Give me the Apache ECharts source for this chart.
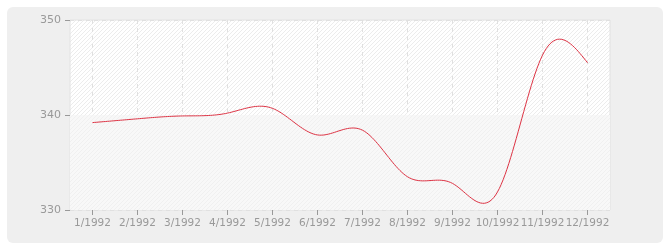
<!DOCTYPE html>
<html><head><meta charset="utf-8">
<script src="https://cdn.jsdelivr.net/npm/echarts@6/dist/echarts.min.js"></script>
<style>html,body{margin:0;padding:0;background:#fff}#c{width:670px;height:250px}</style>
</head><body><div id="c"></div>
<script>
const categories = ['1/1992','2/1992','3/1992','4/1992','5/1992','6/1992','7/1992','8/1992','9/1992','10/1992','11/1992','12/1992'];
const values = [339.2, 339.6, 339.9, 340.2, 340.7, 337.9, 338.4, 333.5, 332.8, 331.9, 346.3, 345.5];
const yTicks = { min: 330, max: 350, interval: 10 };

function hatch(bg, line) {
  const c = document.createElement('canvas');
  c.width = 4; c.height = 4;
  const g = c.getContext('2d');
  g.fillStyle = bg; g.fillRect(0, 0, 4, 4);
  g.fillStyle = line;
  for (let i = 0; i < 4; i++) g.fillRect(i, 3 - i, 1, 1);
  return { image: c, repeat: 'repeat' };
}

// natural cubic spline through pixel knots (uniform x)
function splinePoints(pts) {
  const n = pts.length;
  const h = pts[1][0] - pts[0][0];
  const y = pts.map(p => p[1]);
  const M = new Array(n).fill(0);
  const a = [], b = [], c = [], d = [];
  for (let i = 1; i < n - 1; i++) {
    a.push(1); b.push(4); c.push(1);
    d.push(6 * (y[i + 1] - 2 * y[i] + y[i - 1]) / (h * h));
  }
  const m = d.length;
  for (let i = 1; i < m; i++) {
    const w = a[i] / b[i - 1];
    b[i] -= w * c[i - 1];
    d[i] -= w * d[i - 1];
  }
  const sol = new Array(m);
  sol[m - 1] = d[m - 1] / b[m - 1];
  for (let i = m - 2; i >= 0; i--) sol[i] = (d[i] - c[i] * sol[i + 1]) / b[i];
  for (let i = 0; i < m; i++) M[i + 1] = sol[i];
  const out = [];
  const steps = 24;
  for (let i = 0; i < n - 1; i++) {
    for (let s = 0; s <= steps; s++) {
      if (i > 0 && s === 0) continue;
      const t = s / steps;
      const x = pts[i][0] + t * h;
      const A = 1 - t, B = t;
      const yy = A * y[i] + B * y[i + 1] + ((A * A * A - A) * M[i] + (B * B * B - B) * M[i + 1]) * h * h / 6;
      out.push([x, yy]);
    }
  }
  return out;
}

const chart = echarts.init(document.getElementById('c'), null, { renderer: 'canvas' });
chart.setOption({
  animation: false,
  backgroundColor: '#ffffff',
  graphic: [{
    type: 'rect', z: -10, silent: true,
    shape: { x: 7, y: 7, width: 656, height: 236, r: 6 },
    style: { fill: '#efefef' }
  }],
  grid: {
    left: 70, right: 60, top: 20, bottom: 40,
    show: true,
    backgroundColor: hatch('#ffffff', '#ececec'),
    borderColor: '#e2e2e2', borderWidth: 1
  },
  xAxis: {
    type: 'category',
    data: categories,
    boundaryGap: true,
    axisLine: { show: false },
    axisTick: { show: true, alignWithLabel: true, length: 5, lineStyle: { color: '#999' } },
    axisLabel: { color: '#999', fontFamily: 'DejaVu Sans', fontSize: 10.5, margin: 8, interval: 0 },
    splitLine: { show: true, alignWithLabel: true, lineStyle: { color: '#e0e0e0', type: [4, 4], width: 1 } }
  },
  yAxis: {
    type: 'value',
    min: yTicks.min, max: yTicks.max, interval: yTicks.interval,
    axisLine: { show: false },
    axisTick: { show: true, length: 5, lineStyle: { color: '#999' } },
    axisLabel: { color: '#999', fontFamily: 'DejaVu Sans', fontSize: 11, margin: 9 },
    splitLine: { show: true, lineStyle: { color: '#e0e0e0', type: [4, 4], width: 1 } }
  },
  series: [{
    type: 'line',
    data: values,
    symbol: 'none',
    lineStyle: { opacity: 0 },
    markArea: {
      silent: true,
      itemStyle: { color: hatch('#f8f8f8', '#f0f0f0') },
      data: [[{ yAxis: 330 }, { yAxis: 340 }]]
    }
  }, {
    type: 'custom',
    data: categories.map((c, i) => [c, values[i]]),
    encode: { x: 0, y: 1 },
    renderItem: function (params, api) {
      if (params.dataIndex !== 0) return null;
      const knots = values.map((v, i) => api.coord([categories[i], v]));
      return {
        type: 'polyline',
        shape: { points: splinePoints(knots) },
        style: { stroke: '#dd3344', fill: null, lineWidth: 1 }
      };
    }
  }]
});
</script></body></html>
